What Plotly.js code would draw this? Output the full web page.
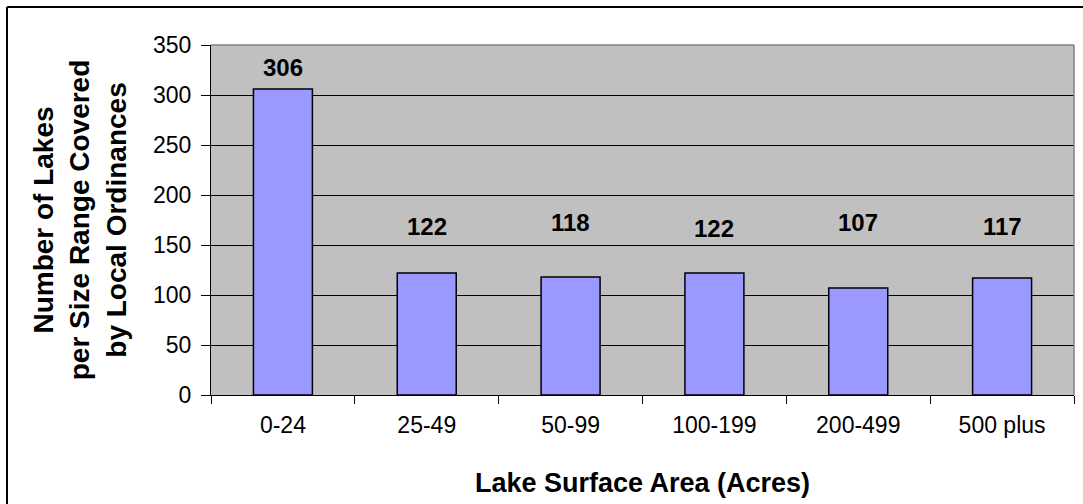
<!DOCTYPE html>
<html>
<head>
<meta charset="utf-8">
<script src="https://cdn.plot.ly/plotly-3.0.1.min.js"></script>
<style>html,body{margin:0;padding:0;background:#fff;}</style>
</head>
<body>
<div id="chart" style="width:1083px;height:504px;"></div>
<script>
// ---- data ----
var categories = ["0-24", "25-49", "50-99", "100-199", "200-499", "500 plus"];
var lakeCounts = [306, 122, 118, 122, 107, 117];
var yTickValues = [0, 50, 100, 150, 200, 250, 300, 350];
var yTickLabels = ["0", "50", "100", "150", "200", "250", "300", "350"];

// ---- layout helpers (label anchor heights as drawn in original, in axis units) ----
var labelAnchorY = [328, 169, 173, 167, 173, 169];

var W = 1083, H = 504;
var mL = 211, mR = 9, mT = 45, mB = 109;
var pw = W - mL - mR, ph = H - mT - mB;
function px2x(p){ return (p - mL) / pw; }
function py2y(p){ return (H - mB - p) / ph; }

var FONT = "Liberation Sans, Arial, sans-serif";

var trace = {
  type: "bar",
  x: categories,
  y: lakeCounts,
  marker: { color: "#9999FF", line: { color: "#000000", width: 1.5 } },
  hoverinfo: "x+y"
};

var annotations = categories.map(function(c, i){
  return {
    x: c, y: labelAnchorY[i], xref: "x", yref: "y",
    text: "<b>" + lakeCounts[i] + "</b>",
    showarrow: false,
    font: { family: FONT, size: 24, color: "#000" },
    xanchor: "center", yanchor: "middle"
  };
});

var layout = {
  width: W, height: H,
  margin: { l: mL, r: mR, t: mT, b: mB, pad: 0 },
  paper_bgcolor: "#ffffff",
  plot_bgcolor: "#C0C0C0",
  showlegend: false,
  bargap: 0.59,
  font: { family: FONT, color: "#000" },
  xaxis: {
    type: "category",
    tickson: "boundaries",
    ticks: "outside", ticklen: 8, tickwidth: 1, tickcolor: "#000",
    showline: true, linecolor: "#000", linewidth: 1,
    showgrid: false,
    tickfont: { family: FONT, size: 23, color: "#000" },
    ticklabelstandoff: 9,
    title: { text: "<b>Lake Surface Area (Acres)</b>", font: { family: FONT, size: 27, color: "#000" }, standoff: 36 },
    fixedrange: true
  },
  yaxis: {
    range: [0, 350],
    tickmode: "array", tickvals: yTickValues, ticktext: yTickLabels,
    ticks: "outside", ticklen: 9, tickwidth: 1, tickcolor: "#000",
    showline: true, linecolor: "#000", linewidth: 1,
    showgrid: true, gridcolor: "#000000", gridwidth: 1,
    zeroline: false,
    tickfont: { family: FONT, size: 23, color: "#000" },
    ticklabelstandoff: 5,
    title: { text: "<b>Number of Lakes<br>per Size Range Covered<br>by Local Ordinances</b>", font: { family: FONT, size: 28, color: "#000" }, standoff: 18 },
    fixedrange: true
  },
  annotations: annotations,
  shapes: [
    { type: "line", xref: "paper", yref: "paper", x0: 0, x1: 1, y0: 1, y1: 1, line: { color: "#808080", width: 1.5 } },
    { type: "line", xref: "paper", yref: "paper", x0: 1, x1: 1, y0: 0, y1: 1, line: { color: "#808080", width: 1.5 } },
    { type: "line", xref: "paper", yref: "paper", x0: px2x(7), x1: px2x(W + 5), y0: py2y(7), y1: py2y(7), line: { color: "#000", width: 2 } },
    { type: "line", xref: "paper", yref: "paper", x0: px2x(7), x1: px2x(7), y0: py2y(7), y1: py2y(H + 5), line: { color: "#000", width: 2 } }
  ]
};

Plotly.newPlot("chart", [trace], layout, { displayModeBar: false, staticPlot: true });
</script>
</body>
</html>
